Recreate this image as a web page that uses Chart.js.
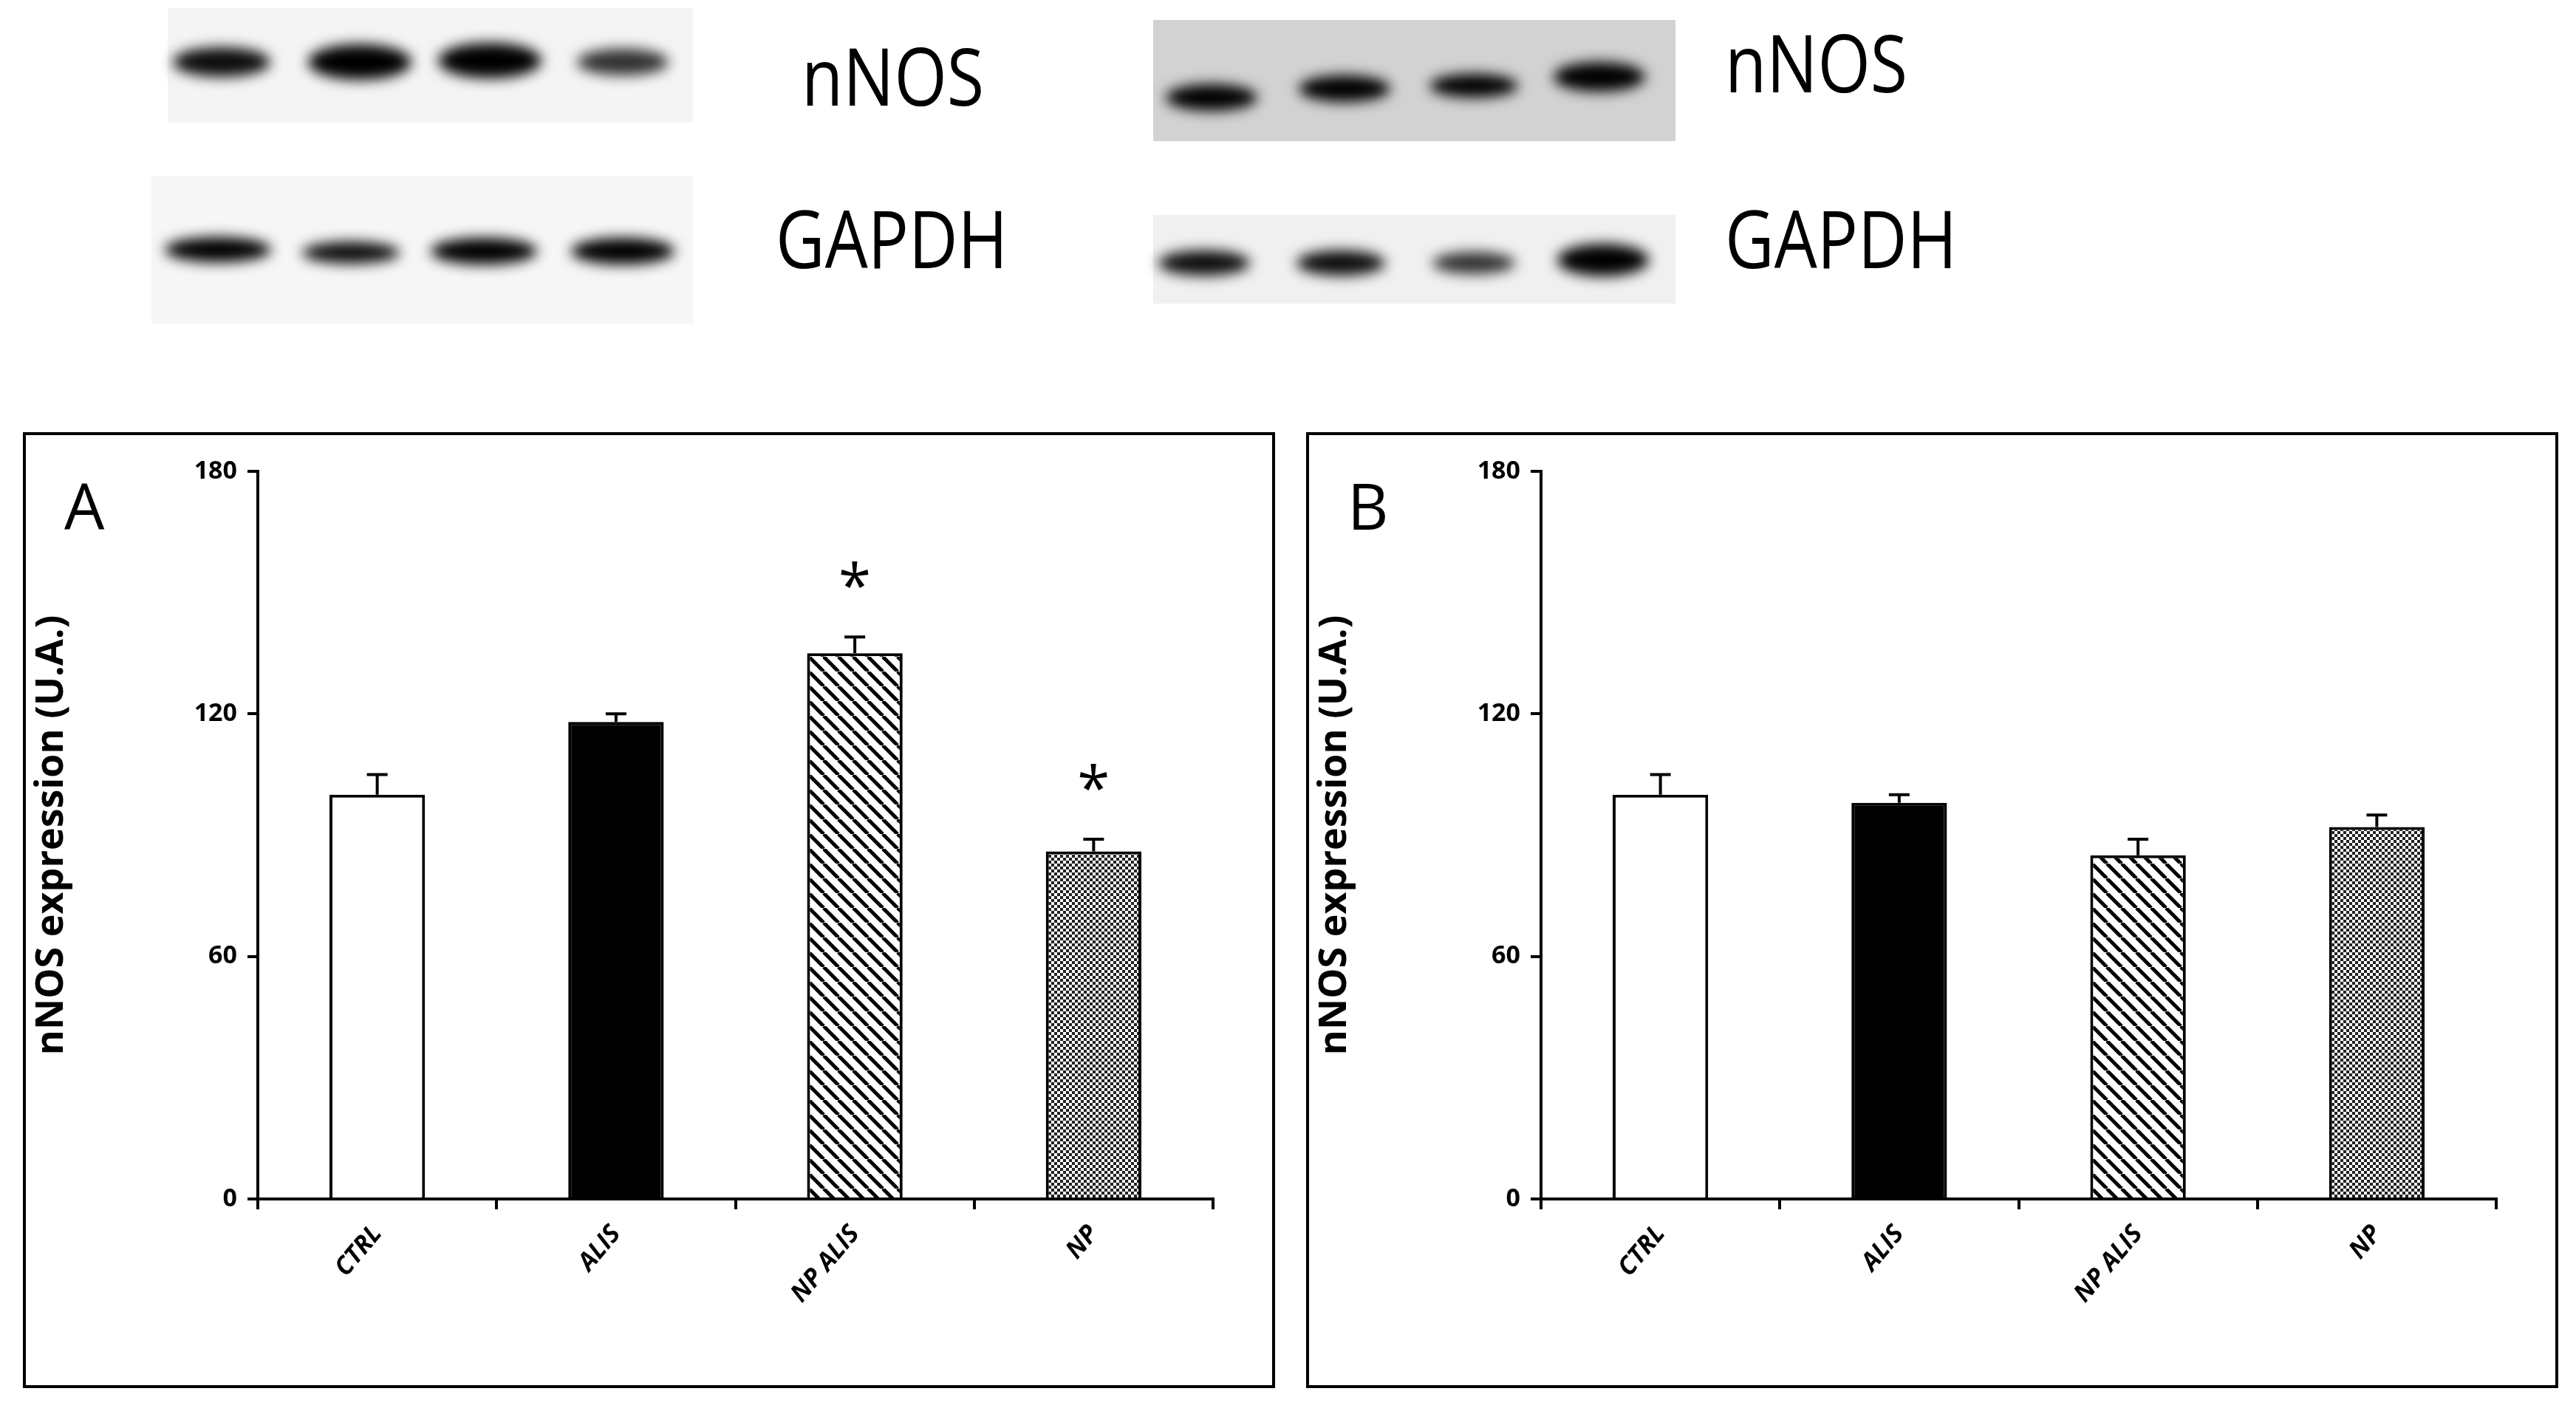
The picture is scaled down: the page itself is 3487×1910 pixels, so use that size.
<!DOCTYPE html>
<html>
<head>
<meta charset="utf-8">
<script src="https://cdn.jsdelivr.net/npm/chart.js@4.4.1/dist/chart.umd.min.js"></script>
<style>
  body { margin: 0; width: 3487px; height: 1910px; background: #fff; position: relative; overflow: hidden; font-family: "Open Sans", sans-serif; }
  .panel { position: absolute; top: 585px; width: 1687px; height: 1286px; border: 4px solid #000; }
  .lbl { position: absolute; font-family: "Open Sans", sans-serif; font-size: 108px; line-height: 1; transform: scaleX(0.85); transform-origin: left top; }
  .letter { position: absolute; left: 52px; top: 36px; font-size: 86px; font-family: "Open Sans", sans-serif; z-index: 2; }
</style>
</head>
<body>
<canvas id="blots" width="3487" height="480" style="position:absolute;left:0;top:0"></canvas>
<div class="lbl" style="left:1085px;top:48px">nNOS</div>
<div class="lbl" style="left:1050px;top:268px">GAPDH</div>
<div class="lbl" style="left:2335px;top:30px">nNOS</div>
<div class="lbl" style="left:2335px;top:268px">GAPDH</div>

<div class="panel" style="left:31px"><div class="letter">A</div><canvas id="chartA"></canvas></div>
<div class="panel" style="left:1768px"><div class="letter">B</div><canvas id="chartB"></canvas></div>

<script>
// ---- data ----
var categories = ['CTRL', 'ALIS', 'NP ALIS', 'NP'];
var yTicks = [0, 60, 120, 180];
var valuesA = [100, 118, 135, 86];
var errorsA = [5, 2, 4, 3];
var starsA = [false, false, true, true];
var valuesB = [100, 98, 85, 92];
var errorsB = [5, 2, 4, 3];
var starsB = [false, false, false, false];

// ---- western blot pictures (decoration) ----
(function () {
    var c = document.getElementById('blots').getContext('2d');
    function blot(x, y, w, h, bg, bands) {
        c.fillStyle = bg;
        c.fillRect(x, y, w, h);
        c.save();
        c.filter = 'blur(9px)';
        bands.forEach(function (b) {
            c.fillStyle = 'rgba(0,0,0,' + b[3] + ')';
            c.beginPath();
            c.ellipse(b[0], b[1], b[2], b[4], 0, 0, Math.PI * 2);
            c.fill();
        });
        c.restore();
    }
    blot(227, 11, 711, 155, '#f4f4f4', [[300, 84, 66, 0.95, 20], [487, 84, 70, 1, 24], [663, 82, 70, 1, 24], [843, 84, 62, 0.8, 18]]);
    blot(205, 238, 733, 200, '#f6f6f6', [[295, 338, 72, 1, 17], [475, 342, 66, 0.95, 15], [655, 340, 72, 1, 18], [843, 340, 70, 1, 18]]);
    blot(1561, 27, 707, 164, '#d2d2d2', [[1640, 132, 62, 1, 18], [1820, 120, 62, 1, 18], [1995, 116, 60, 1, 16], [2165, 104, 62, 1, 20]]);
    blot(1561, 291, 707, 120, '#f0f0f0', [[1630, 356, 62, 0.95, 17], [1815, 356, 60, 0.95, 17], [1995, 356, 56, 0.8, 15], [2170, 352, 62, 1, 22]]);
})();

// ---- fill patterns ----
function hatchPattern() {
    var p = document.createElement('canvas');
    p.width = 20; p.height = 20;
    var g = p.getContext('2d');
    g.fillStyle = '#fff'; g.fillRect(0, 0, 20, 20);
    g.strokeStyle = '#000'; g.lineWidth = 5;
    for (var k = -20; k <= 40; k += 20) {
        g.beginPath(); g.moveTo(k, 0); g.lineTo(k + 20, 20); g.stroke();
    }
    return g.createPattern(p, 'repeat');
}
function checkPattern() {
    var p = document.createElement('canvas');
    p.width = 8; p.height = 8;
    var g = p.getContext('2d');
    g.fillStyle = '#fff'; g.fillRect(0, 0, 8, 8);
    g.fillStyle = '#222';
    g.fillRect(0, 0, 4, 4); g.fillRect(4, 4, 4, 4);
    return g.createPattern(p, 'repeat');
}

// error bars (up only) and significance stars
var extrasPlugin = {
    id: 'extras',
    afterDatasetsDraw: function (chart, args, opts) {
        var ctx = chart.ctx;
        var meta = chart.getDatasetMeta(0);
        var y = chart.scales.y;
        ctx.save();
        ctx.strokeStyle = '#000';
        ctx.lineWidth = 4;
        meta.data.forEach(function (bar, i) {
            var top = y.getPixelForValue(opts.values[i] + opts.errors[i]);
            ctx.beginPath();
            ctx.moveTo(bar.x, bar.y); ctx.lineTo(bar.x, top);
            ctx.moveTo(bar.x - 14, top); ctx.lineTo(bar.x + 14, top);
            ctx.stroke();
            if (opts.stars[i]) {
                ctx.fillStyle = '#000';
                ctx.font = '80px "Open Sans"';
                ctx.textAlign = 'center';
                ctx.textBaseline = 'bottom';
                ctx.fillText('*', bar.x, top - 24);
            }
        });
        ctx.restore();
    }
};

function makeChart(id, values, errors, stars) {
    var fills = ['#ffffff', '#000000', hatchPattern(), checkPattern()];
    return new Chart(document.getElementById(id), {
        type: 'bar',
        data: {
            labels: categories,
            datasets: [{
                data: values,
                backgroundColor: fills,
                borderColor: '#000',
                borderWidth: 4,
                borderSkipped: 'bottom',
                barPercentage: 0.4,
                categoryPercentage: 1
            }]
        },
        options: {
            responsive: true,
            maintainAspectRatio: false,
            animation: false,
            layout: { padding: { top: 49, right: 80, left: 0, bottom: 0 } },
            plugins: {
                legend: { display: false },
                tooltip: { enabled: false },
                extras: { values: values, errors: errors, stars: stars }
            },
            scales: {
                x: {
                    afterFit: function (s) { s.height = 252; },
                    border: { color: '#000', width: 4 },
                    grid: { drawOnChartArea: false, color: '#000', lineWidth: 4, tickLength: 14, offset: true },
                    ticks: {
                        color: '#000', maxRotation: 50, minRotation: 50, padding: 14,
                        font: { family: 'Open Sans', size: 34, weight: 'bold', style: 'italic' }
                    }
                },
                y: {
                    min: 0, max: 180,
                    afterFit: function (s) { s.width = 314; },
                    afterBuildTicks: function (s) { s.ticks = yTicks.map(function (v) { return { value: v }; }); },
                    border: { color: '#000', width: 4 },
                    grid: { drawOnChartArea: false, color: '#000', lineWidth: 4, tickLength: 14 },
                    ticks: { color: '#000', padding: 14, font: { family: 'Open Sans', size: 34, weight: 'bold' } },
                    title: {
                        display: true, text: 'nNOS expression (U.A.)', color: '#000', padding: { bottom: 40 },
                        font: { family: 'Open Sans', size: 52, weight: 'bold' }
                    }
                }
            }
        },
        plugins: [extrasPlugin]
    });
}

makeChart('chartA', valuesA, errorsA, starsA);
makeChart('chartB', valuesB, errorsB, starsB);
</script>
</body>
</html>
